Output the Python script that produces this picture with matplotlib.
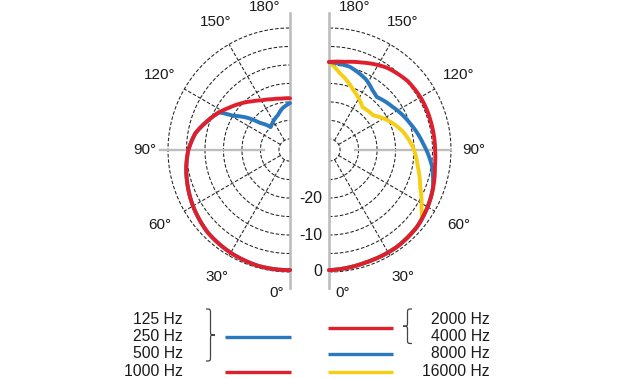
import numpy as np
import matplotlib
matplotlib.use("Agg")
import matplotlib.pyplot as plt
from matplotlib.transforms import offset_copy
from matplotlib.path import Path
from matplotlib.patches import PathPatch

plt.rcParams['font.family'] = ['Liberation Sans', 'DejaVu Sans']

# ---------------- data ----------------
ring_levels = [-30, -25, -20, -15, -10, -5, 0]      # dB rings
spoke_angles = [30, 60, 120, 150]                    # dashed spokes
angle_labels = [0, 30, 60, 90, 120, 150, 180]
db_ticks = [-20, -10, 0]

# left diagram
left_red_theta = [0, 15, 30, 45, 60, 70, 80, 90, 100, 108, 118, 125, 133, 142, 150, 160, 170, 180]
left_red_db = [-0.5, -0.5, -0.9, -1.5, -2.7, -3.6, -4.5, -5.5, -7.0, -9.0, -11.3, -13.0, -14.6, -16.3, -17.5, -18.4, -18.9, -19.0]

left_blue_theta = [0, 15, 30, 45, 60, 70, 80, 90, 100, 108, 118, 121, 127, 132, 140, 150, 161, 170, 180]
left_blue_db = [-0.5, -0.5, -0.9, -1.5, -2.7, -3.6, -4.5, -5.5, -7.0, -9.0, -11.3, -15.0, -18.5, -22.0, -24.9, -24.0, -23.0, -21.5, -20.3]

# right diagram
right_red_theta = [0, 18, 35, 49, 64, 81, 90, 103, 118, 131, 145, 160, 170, 180]
right_red_db = [-0.5, -1.0, -1.0, -1.4, -2.5, -4.0, -4.3, -4.4, -4.4, -4.7, -5.8, -7.8, -8.8, -9.2]

right_blue_theta = [0, 18, 35, 49, 60, 70, 81, 94, 108, 124, 138, 144, 152, 166, 180]
right_blue_db = [-0.5, -1.0, -1.0, -1.4, -2.2, -3.1, -4.8, -7.5, -9.9, -12.2, -13.7, -13.0, -11.5, -9.8, -9.2]

right_yellow_theta = [0, 18, 35, 49, 53, 58, 68, 79, 92, 104, 115, 128, 142, 158, 172, 180]
right_yellow_db = [-0.5, -1.0, -1.0, -1.4, -1.6, -3.5, -6.4, -8.5, -10.3, -12.4, -14.8, -17.8, -18.3, -15.5, -12.0, -9.2]

left_labels = ['125 Hz', '250 Hz', '500 Hz', '1000 Hz']
right_labels = ['2000 Hz', '4000 Hz', '8000 Hz', '16000 Hz']
left_groups = [[0, 1, 2], [3]]
right_groups = [[0, 1], [2], [3]]

RED = '#e01f2d'
BLUE = '#2a78be'
YELLOW = '#f6cf14'
left_group_colors = [BLUE, RED]
right_group_colors = [RED, BLUE, YELLOW]

# ---------------- layout ----------------
W, H = 620, 378
R = 122.0          # px radius of the 0 dB ring
RMIN = -33.0       # dB at the centre
fig = plt.figure(figsize=(W / 100, H / 100), dpi=100)
fig.patch.set_facecolor('white')

def px2db(p):
    return RMIN + p * (-RMIN) / R

GRID_KW = dict(color='#222222', lw=0.75, linestyle=(0, (3.4, 1.8)), zorder=1)
AXIS_COLOR = '#bdbdbd'

label_theta = [5.5, 30, 60, 90, 120, 150, 170]
label_rpx = [144, 147, 150, 145, 150, 148, 145]


def half_polar(cx, cy, direction, h90_ext):
    ax = fig.add_axes([(cx - R) / W, (H - cy - R) / H, 2 * R / W, 2 * R / H],
                      projection='polar')
    ax.set_theta_zero_location('S')
    ax.set_theta_direction(direction)
    ax.set_ylim(RMIN, 0)
    ax.set_axis_off()
    th = np.linspace(0, np.pi, 181)
    for lev in ring_levels:
        ax.plot(th, np.full_like(th, lev), clip_on=False, **GRID_KW)
    for a in spoke_angles:
        ax.plot([np.deg2rad(a)] * 2, [ring_levels[0], 0], clip_on=False, **GRID_KW)
    # solid grey axes
    ax.plot([0, 0], [RMIN, px2db(138)], color=AXIS_COLOR, lw=1.9, clip_on=False, zorder=2)
    ax.plot([np.pi, np.pi], [RMIN, px2db(137)], color=AXIS_COLOR, lw=1.9, clip_on=False, zorder=2)
    ax.plot([np.pi / 2] * 2, [-26, h90_ext], color=AXIS_COLOR, lw=1.7, clip_on=False, zorder=2)
    for a, t, rp in zip(angle_labels, label_theta, label_rpx):
        ax.text(np.deg2rad(t), px2db(rp), f'{a}°', ha='center', va='center',
                fontsize=11, color='#1a1a1a', clip_on=False)
    return ax


axL = half_polar(290, 150, -1, px2db(130))
axR = half_polar(329, 150, 1, 0)

LW = 2.8


def curve(ax, theta, db, color, z):
    ln, = ax.plot(np.deg2rad(theta), db, color=color, lw=LW, zorder=z,
                  clip_on=False, solid_joinstyle='round', solid_capstyle='round')
    # let the polar transform draw each segment as a smooth spiral arc
    ln.get_path()._interpolation_steps = 30
    return ln


curve(axL, left_blue_theta, left_blue_db, BLUE, 3)
curve(axL, left_red_theta, left_red_db, RED, 4)
curve(axR, right_yellow_theta, right_yellow_db, YELLOW, 3)
curve(axR, right_blue_theta, right_blue_db, BLUE, 4)
curve(axR, right_red_theta, right_red_db, RED, 5)

tr = offset_copy(axR.transData, fig=fig, x=-7, y=0, units='dots')
for v in db_ticks:
    axR.text(0, v, f'{v}', transform=tr, ha='right', va='center', fontsize=11.5,
             color='#1a1a1a', clip_on=False)

# ---------------- legend ----------------
lax = fig.add_axes([0, 0, 1, 1], zorder=-1)
lax.set_xlim(0, W)
lax.set_ylim(H, 0)
lax.axis('off')

row_y = [319, 336.5, 354, 371.5]
for lbl, y in zip(left_labels, row_y):
    lax.text(183, y, lbl, ha='right', va='center', fontsize=11.3, color='#1a1a1a')
for lbl, y in zip(right_labels, row_y):
    lax.text(490, y, lbl, ha='right', va='center', fontsize=11.3, color='#1a1a1a')


def brace(xb, xt, y0, y1):
    xm = (xb + xt) / 2
    ym = (y0 + y1) / 2
    q = 4.5
    verts = [(xb, y0), (xm, y0), (xm, y0), (xm, y0 + q),
             (xm, ym - q),
             (xm, ym), (xm, ym), (xt, ym),
             (xm, ym), (xm, ym), (xm, ym + q),
             (xm, y1 - q),
             (xm, y1), (xm, y1), (xb, y1)]
    codes = [Path.MOVETO, Path.CURVE4, Path.CURVE4, Path.CURVE4,
             Path.LINETO,
             Path.CURVE4, Path.CURVE4, Path.CURVE4,
             Path.CURVE4, Path.CURVE4, Path.CURVE4,
             Path.LINETO,
             Path.CURVE4, Path.CURVE4, Path.CURVE4]
    lax.add_patch(PathPatch(Path(verts, codes), fill=False, edgecolor='#444444', lw=0.9))


for g, c in zip(left_groups, left_group_colors):
    y = np.mean([row_y[i] for i in g])
    lax.plot([225, 291], [y, y], color=c, lw=2.4, solid_capstyle='butt')
    if len(g) > 1:
        brace(206, 215, row_y[g[0]] - 10, row_y[g[-1]] + 7)

for g, c in zip(right_groups, right_group_colors):
    y = np.mean([row_y[i] for i in g])
    lax.plot([328, 393], [y, y], color=c, lw=2.4, solid_capstyle='butt')
    if len(g) > 1:
        brace(412, 403, row_y[g[0]] - 10, row_y[g[-1]] + 7)

fig.savefig('out.png', dpi=100, facecolor='white')
